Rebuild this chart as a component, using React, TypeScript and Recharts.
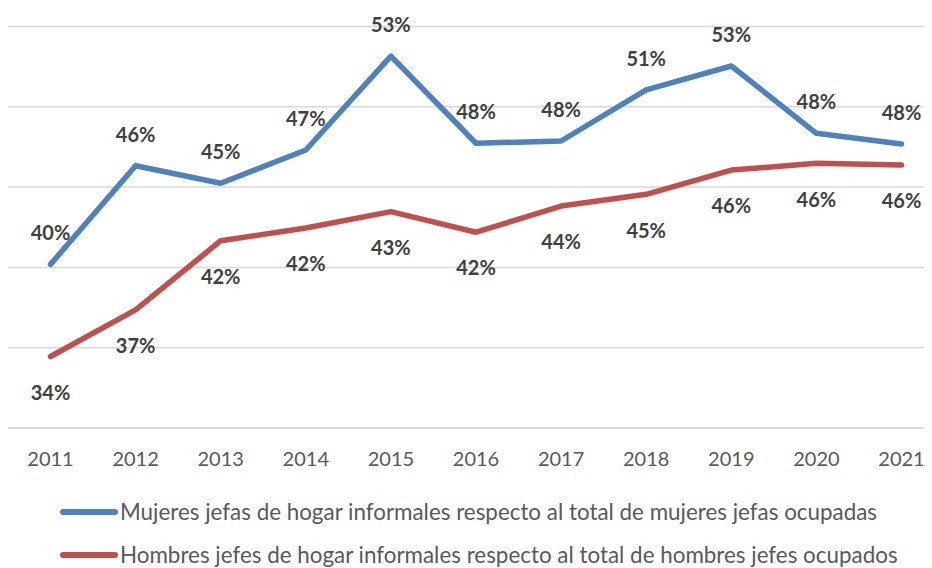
import React from 'react';
import { LineChart, Line, XAxis, YAxis, CartesianGrid, Legend, LabelList } from 'recharts';

const years = ['2011', '2012', '2013', '2014', '2015', '2016', '2017', '2018', '2019', '2020', '2021'];
const mujeres = [40.19, 46.33, 45.24, 47.31, 53.16, 47.73, 47.87, 51.05, 52.54, 48.35, 47.68];
const hombres = [34.45, 37.35, 41.66, 42.45, 43.47, 42.19, 43.82, 44.55, 46.06, 46.48, 46.38];
const yTicks = [30, 35, 40, 45, 50, 55];

const MUJERES_LABEL = 'Mujeres jefas de hogar informales respecto al total de mujeres jefas ocupadas';
const HOMBRES_LABEL = 'Hombres jefes de hogar informales respecto al total de hombres jefes ocupados';

const BLUE = '#4F81BD';
const RED = '#C0504D';
const FONT = 'Lato, "Open Sans", sans-serif';

const data = years.map((year, i) => ({
  year,
  mujeres: mujeres[i],
  hombres: hombres[i],
}));

const pct = (v: any) => `${Math.round(Number(v))}%`;

const labelStyle = {
  fontFamily: FONT,
  fontWeight: 700,
  fontSize: 20,
  fill: '#404040',
};

function LegendBox() {
  const rows = [
    { color: BLUE, text: MUJERES_LABEL },
    { color: RED, text: HOMBRES_LABEL },
  ];
  return (
    <div style={{ fontFamily: FONT, fontSize: 22.4, color: '#595959' }}>
      {rows.map((r) => (
        <div key={r.text} style={{ display: 'flex', alignItems: 'center', height: 43, whiteSpace: 'nowrap' }}>
          <svg width={60} height={10} style={{ flex: 'none' }}>
            <line x1={3} y1={5} x2={55} y2={5} stroke={r.color} strokeWidth={6} strokeLinecap="round" />
          </svg>
          <span>{r.text}</span>
        </div>
      ))}
    </div>
  );
}

export default function App() {
  return (
    <div style={{ width: 924, height: 560, overflow: 'hidden', background: '#fff' }}>
      <LineChart
        width={936}
        height={560}
        data={data}
        margin={{ top: 18.5, right: 0, left: 0, bottom: 100 }}
      >
        <CartesianGrid vertical={false} stroke="#d9d9d9" strokeWidth={1.5} />
        <XAxis
          dataKey="year"
          height={40}
          padding={{ left: 42.5, right: 42.5 }}
          axisLine={{ stroke: '#d9d9d9', strokeWidth: 1.5 }}
          tickLine={false}
          tickMargin={18}
          tick={{ fill: '#595959', fontSize: 20, fontFamily: FONT }}
          interval={0}
        />
        <YAxis hide domain={[30, 55]} ticks={yTicks} />
        <Legend
          layout="vertical"
          align="center"
          verticalAlign="middle"
          wrapperStyle={{ top: 482, left: 52, width: 880 }}
          content={() => <LegendBox />}
        />
        <Line
          type="linear"
          dataKey="mujeres"
          stroke={BLUE}
          strokeWidth={5.5}
          strokeLinecap="round"
          strokeLinejoin="round"
          dot={false}
          activeDot={false}
          isAnimationActive={false}
        >
          <LabelList dataKey="mujeres" position="top" offset={24} formatter={pct} style={labelStyle} />
        </Line>
        <Line
          type="linear"
          dataKey="hombres"
          stroke={RED}
          strokeWidth={5.5}
          strokeLinecap="round"
          strokeLinejoin="round"
          dot={false}
          activeDot={false}
          isAnimationActive={false}
        >
          <LabelList dataKey="hombres" position="bottom" offset={29} formatter={pct} style={labelStyle} />
        </Line>
      </LineChart>
    </div>
  );
}
